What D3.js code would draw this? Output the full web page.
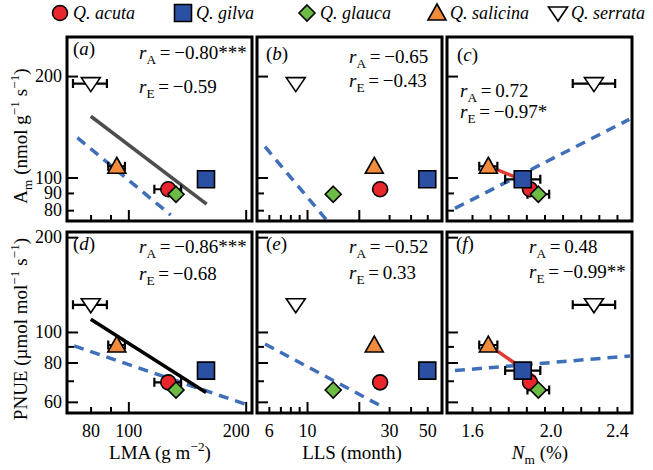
<!DOCTYPE html>
<html>
<head>
<meta charset="utf-8">
<script src="https://cdn.jsdelivr.net/npm/d3@7/dist/d3.min.js"></script>
<style>
  body { margin: 0; background: #fff; }
  svg text { font-family: "Liberation Serif", LiberationSerif, Tinos, "DejaVu Serif", "Noto Serif", serif; fill: #000; }
</style>
</head>
<body>
<script>
// species, in legend order
var species = ["Q. acuta", "Q. gilva", "Q. glauca", "Q. salicina", "Q. serrata"];
var fills   = ["#e8262b", "#2a4fa3", "#6cbb45", "#f38b3c", "#ffffff"];
var shapes  = ["circle", "square", "diamond", "triangle", "triangleDown"];

// traits per species
var lma    = [126.6, 158.2, 132.5, 93.4, 80.1];
var lmaErr = [10, 5, 3, 4.6, 8];
var lls    = [26.6, 50, 14.2, 24.6, 8.6];
var nm     = [1.92, 1.88, 1.966, 1.69, 2.273];
var nmErr  = [0.03, 0.097, 0.06, 0.05, 0.117];
var am     = [92.3, 98.8, 89.2, 108, 190];
var pnue   = [69.2, 75.4, 65.4, 90.9, 122];

// correlation coefficients, panels a-f
var rA = ["\u22120.80***", "\u22120.65", "0.72", "\u22120.86***", "\u22120.52", "0.48"];
var rE = ["\u22120.59", "\u22120.43", "\u22120.97*", "\u22120.68", "0.33", "\u22120.99**"];

// fitted lines [x, y] end points
var solidLmaAm   = [[80.1, 152], [158.8, 83.4]];
var solidLmaPnue = [[80.1, 109.7], [158.2, 64.2]];
var dashLmaAm    = [[74.0, 131.3], [128.4, 77.4]];
var dashLmaPnue  = [[72.6, 90.3], [206, 58.2]];
var dashLlsAm    = [[5.7, 123.4], [12.9, 75.1]];
var dashLlsPnue  = [[5.7, 91.6], [28.4, 57.3]];
var dashNmAm     = [[1.506, 81.0], [2.468, 148.8]];
var dashNmPnue   = [[1.506, 75.4], [2.472, 83.9]];
var redNmAm      = [[1.69, 108], [1.95, 95]];
var redNmPnue    = [[1.69, 91], [1.95, 71.7]];

// ticks
var lmaTicks   = [80, 90, 100, 200], lmaMajor = [100, 200], lmaLabels = [80, 100, 200];
var llsTicks   = [6, 7, 8, 9, 10, 20, 30, 40, 50], llsMajor = [10, 20], llsLabels = [6, 10, 30, 50];
var nmTicks    = [1.6, 1.7, 1.8, 1.9, 2.0, 2.1, 2.2, 2.3, 2.4], nmLabels = [1.6, 2.0, 2.4];
var amTicks    = [80, 90, 100, 200], amMajor = [100, 200];
var pnueTicks  = [60, 70, 80, 90, 100, 200], pnueMajor = [60, 80, 100, 200];

var W = 653, H = 470;
var cols = [67, 257, 447], pw = 185;
var rows = [[37, 221], [232, 413]];

var svg = d3.select("body").append("svg").attr("width", W).attr("height", H);

var xs = [
  d3.scaleLog().domain([69.6, 207.6]).range([cols[0], cols[0] + pw]),
  d3.scaleLog().domain([5.12, 60.9]).range([cols[1], cols[1] + pw]),
  d3.scaleLinear().domain([1.462, 2.483]).range([cols[2], cols[2] + pw])
];
var ys = [
  d3.scaleLog().domain([74.3, 261.2]).range([rows[0][1], rows[0][0]]),
  d3.scaleLog().domain([55.3, 207.7]).range([rows[1][1], rows[1][0]])
];

function shapePath(s) {
  if (s == "circle") return "M7.5,0A7.5,7.5 0 1,1 -7.5,0A7.5,7.5 0 1,1 7.5,0Z";
  if (s == "square") return "M-8.5,-8.5H8.5V8.5H-8.5Z";
  if (s == "diamond") return "M0,-8L8,0L0,8L-8,0Z";
  if (s == "triangle") return "M0,-9L9,7L-9,7Z";
  return "M-9.5,-6L9.5,-6L0,8Z";
}

// text with italic / sub / sup parts
function rich(t, parts, size) {
  var shift = 0;
  parts.forEach(function(p) {
    var s = t.append("tspan").text(p[0]);
    var target = p[1] == "sup" ? -0.42 * size : (p[1] == "sub" ? 0.28 * size : 0);
    if (target != shift) { s.attr("dy", target - shift); shift = target; }
    if (p[1] == "sup" || p[1] == "sub") s.attr("font-size", size * 0.7);
    if (p[1] == "i") s.attr("font-style", "italic");
  });
}

var panels = [
  {c: 0, r: 0, xv: lma, xe: lmaErr, yv: am, lines: [[dashLmaAm, "dash"], [solidLmaAm, "#4d4d4d"]], lab: "a", lx: 73, ly: 55, tx: 139, ya: 59, ye: 92.5},
  {c: 1, r: 0, xv: lls, xe: null, yv: am, lines: [[dashLlsAm, "dash"]], lab: "b", lx: 266, ly: 60, tx: 349, ya: 62.7, ye: 87},
  {c: 2, r: 0, xv: nm, xe: nmErr, yv: am, lines: [[dashNmAm, "dash"], [redNmAm, "#e03a33"]], lab: "c", lx: 457, ly: 61, tx: 460, ya: 96.7, ye: 118},
  {c: 0, r: 1, xv: lma, xe: lmaErr, yv: pnue, lines: [[dashLmaPnue, "dash"], [solidLmaPnue, "#000"]], lab: "d", lx: 73, ly: 250, tx: 139, ya: 253, ye: 280},
  {c: 1, r: 1, xv: lls, xe: null, yv: pnue, lines: [[dashLlsPnue, "dash"]], lab: "e", lx: 266, ly: 250, tx: 349, ya: 253, ye: 279},
  {c: 2, r: 1, xv: nm, xe: nmErr, yv: pnue, lines: [[dashNmPnue, "dash"], [redNmPnue, "#e03a33"]], lab: "f", lx: 456, ly: 250, tx: 529, ya: 253, ye: 278}
];

var xTicks = [[lmaTicks, lmaMajor, lmaLabels], [llsTicks, llsMajor, llsLabels], [nmTicks, [], nmLabels]];
var yTicks = [[amTicks, amMajor, amTicks], [pnueTicks, pnueMajor, [60, 80, 100, 200]]];
var order = [0, 2, 1, 3, 4];
// small nudges of a few tick labels, as set in the original figure
var labelNudge = {"200": -10, "2.0": 6};

panels.forEach(function(p, k) {
  var x = xs[p.c], y = ys[p.r];
  var x0 = cols[p.c], y0 = rows[p.r][0], y1 = rows[p.r][1];
  var g = svg.append("g");

  g.append("clipPath").attr("id", "clip" + k)
    .append("rect").attr("x", x0).attr("y", y0).attr("width", pw).attr("height", y1 - y0);

  var line = d3.line().x(function(d) { return x(d[0]); }).y(function(d) { return y(d[1]); });
  p.lines.forEach(function(l) {
    var path = g.append("path").attr("d", line(l[0])).attr("fill", "none")
      .attr("clip-path", "url(#clip" + k + ")");
    if (l[1] == "dash") {
      path.attr("stroke", "#3f6fb8").attr("stroke-width", 3.5).attr("stroke-dasharray", "10,7");
    } else {
      path.attr("stroke", l[1]).attr("stroke-width", 3.5);
    }
  });

  // x ticks
  var xt = xTicks[p.c];
  var fmt = p.c == 2 ? d3.format(".1f") : d3.format("d");
  var ax = d3.axisBottom(x).tickValues(xt[0]).tickSizeOuter(0)
    .tickSizeInner(0).tickPadding(11)
    .tickFormat(function(d) { return p.r == 1 && xt[2].indexOf(d) >= 0 ? fmt(d) : ""; });
  var axg = g.append("g").attr("transform", "translate(0," + y1 + ")").call(ax).attr("font-family", null);
  axg.select(".domain").remove();
  axg.selectAll(".tick line").attr("y2", function(d) { return xt[1].indexOf(d) >= 0 ? -11 : -6; })
    .attr("stroke", "#000").attr("stroke-width", 2);
  axg.selectAll("text").attr("font-size", 18)
    .attr("dx", function() { return labelNudge[this.textContent] || 0; });

  // y ticks
  var yt = yTicks[p.r];
  var ay = d3.axisLeft(y).tickValues(yt[0]).tickSizeOuter(0).tickSizeInner(0).tickPadding(5)
    .tickFormat(function(d) { return p.c == 0 && yt[2].indexOf(d) >= 0 ? d3.format("d")(d) : ""; });
  var ayg = g.append("g").attr("transform", "translate(" + x0 + ",0)").call(ay).attr("font-family", null);
  ayg.select(".domain").remove();
  ayg.selectAll(".tick line").attr("x2", function(d) { return yt[1].indexOf(d) >= 0 ? 11 : 7; })
    .attr("stroke", "#000").attr("stroke-width", 2);
  ayg.selectAll("text").attr("font-size", 18);

  // error bars
  if (p.xe) {
    order.forEach(function(i) {
      var a = x(p.xv[i] - p.xe[i]), b = x(p.xv[i] + p.xe[i]), yy = y(p.yv[i]);
      g.append("path").attr("d", "M" + a + "," + yy + "H" + b + "M" + a + "," + (yy - 4.5) + "V" + (yy + 4.5) +
        "M" + b + "," + (yy - 4.5) + "V" + (yy + 4.5))
        .attr("stroke", "#000").attr("stroke-width", 2.2).attr("fill", "none");
    });
  }

  // points
  order.forEach(function(i) {
    g.append("path").attr("d", shapePath(shapes[i]))
      .attr("transform", "translate(" + x(p.xv[i]) + "," + y(p.yv[i]) + ")")
      .attr("fill", fills[i]).attr("stroke", "#000").attr("stroke-width", 1.6);
  });

  // frame
  g.append("rect").attr("x", x0).attr("y", y0).attr("width", pw).attr("height", y1 - y0)
    .attr("fill", "none").attr("stroke", "#000").attr("stroke-width", 3);

  // panel letter
  rich(g.append("text").attr("x", p.lx).attr("y", p.ly).attr("font-size", 19),
    [["(", ""], [p.lab, "i"], [")", ""]], 19);

  // r values
  rich(g.append("text").attr("x", p.tx).attr("y", p.ya).attr("font-size", 19),
    [["r", "i"], ["A", "sub"], ["\u2009=\u2009" + rA[k], ""]], 19);
  rich(g.append("text").attr("x", p.tx).attr("y", p.ye).attr("font-size", 19),
    [["r", "i"], ["E", "sub"], ["\u2009=\u2009" + rE[k], ""]], 19);
});

// axis titles
rich(svg.append("text").attr("x", 160).attr("y", 459).attr("text-anchor", "middle").attr("font-size", 19),
  [["LMA (g m", ""], ["\u22122", "sup"], [")", ""]], 19);
rich(svg.append("text").attr("x", 352).attr("y", 459).attr("text-anchor", "middle").attr("font-size", 19),
  [["LLS (month)", ""]], 19);
rich(svg.append("text").attr("x", 540).attr("y", 459).attr("text-anchor", "middle").attr("font-size", 19),
  [["N", "i"], ["m", "sub"], [" (%)", ""]], 19);

rich(svg.append("text").attr("transform", "translate(27,136) rotate(-90)").attr("text-anchor", "middle").attr("font-size", 19),
  [["A", ""], ["m", "sub"], [" (nmol g", ""], ["\u22121", "sup"], [" s", ""], ["\u22121", "sup"], [")", ""]], 19);
rich(svg.append("text").attr("transform", "translate(27,329) rotate(-90)").attr("text-anchor", "middle").attr("font-size", 19),
  [["PNUE (\u00b5mol mol", ""], ["\u22121", "sup"], [" s", ""], ["\u22121", "sup"], [")", ""]], 19);

// legend
var legX = [60, 183, 307, 437, 558];
species.forEach(function(s, i) {
  var lg = svg.append("g").attr("transform", "translate(" + legX[i] + ",13)");
  lg.append("path").attr("d", shapePath(shapes[i])).attr("fill", fills[i])
    .attr("stroke", "#000").attr("stroke-width", 1.6);
  lg.append("text").attr("x", 13).attr("y", 6).attr("font-size", 18).attr("font-style", "italic").text(s);
});
</script>
</body>
</html>
